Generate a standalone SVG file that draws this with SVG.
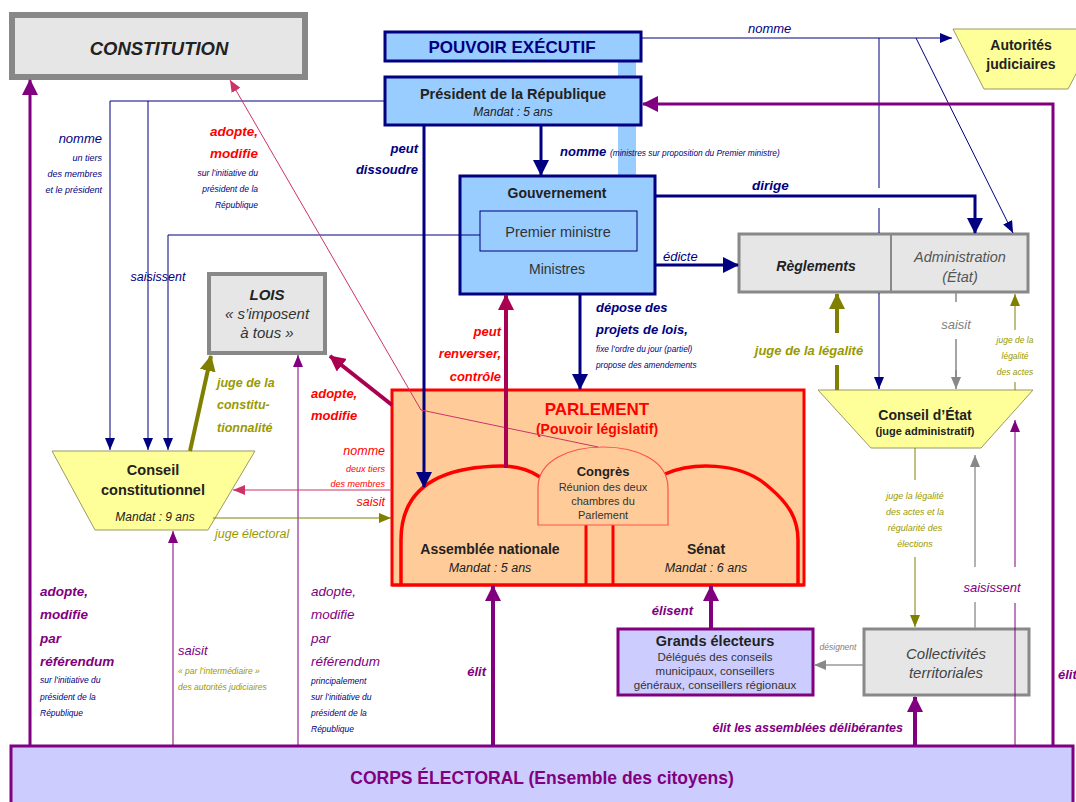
<svg xmlns="http://www.w3.org/2000/svg" width="1076" height="802" viewBox="0 0 1076 802">
<style>
text{font-family:"Liberation Sans",Arial,sans-serif;}
.b{font-weight:bold}
.i{font-style:italic}
.c{text-anchor:middle}
.r{text-anchor:end}
.navy{fill:#000080}
.purp{fill:#800080}
.red{fill:#ff0000}
.oli{fill:#999900}
.gry{fill:#808080}
.dk{fill:#222}
.gbox{fill:#e6e6e6;stroke:#888;}
.bbox{fill:#99ccff;stroke:#000080;stroke-width:3}
.yel{fill:#ffff99;stroke:#999966;stroke-width:1}
.vbox{fill:#ccccff;stroke:#800080;stroke-width:3}
.ln{fill:none}
</style>
<defs>
<marker id="nL" viewBox="0 0 16 16" refX="15" refY="8" markerWidth="16" markerHeight="16" orient="auto" markerUnits="userSpaceOnUse"><path d="M0,0 L16,8 L0,16 z" fill="#000080"/></marker>
<marker id="nS" viewBox="0 0 12 10" refX="12" refY="5" markerWidth="12" markerHeight="10" orient="auto" markerUnits="userSpaceOnUse"><path d="M0,0 L12,5 L0,10 z" fill="#000080"/></marker>
<marker id="pL" viewBox="0 0 16 16" refX="15" refY="8" markerWidth="16" markerHeight="16" orient="auto" markerUnits="userSpaceOnUse"><path d="M0,0 L16,8 L0,16 z" fill="#800080"/></marker>
<marker id="pS" viewBox="0 0 12 10" refX="12" refY="5" markerWidth="12" markerHeight="10" orient="auto" markerUnits="userSpaceOnUse"><path d="M0,0 L12,5 L0,10 z" fill="#800080"/></marker>
<marker id="cL" viewBox="0 0 16 16" refX="15" refY="8" markerWidth="16" markerHeight="16" orient="auto" markerUnits="userSpaceOnUse"><path d="M0,0 L16,8 L0,16 z" fill="#aa0050"/></marker>
<marker id="kS" viewBox="0 0 12 10" refX="12" refY="5" markerWidth="12" markerHeight="10" orient="auto" markerUnits="userSpaceOnUse"><path d="M0,0 L12,5 L0,10 z" fill="#cc3366"/></marker>
<marker id="oL" viewBox="0 0 16 16" refX="15" refY="8" markerWidth="16" markerHeight="16" orient="auto" markerUnits="userSpaceOnUse"><path d="M0,0 L16,8 L0,16 z" fill="#808000"/></marker>
<marker id="oS" viewBox="0 0 12 10" refX="12" refY="5" markerWidth="12" markerHeight="10" orient="auto" markerUnits="userSpaceOnUse"><path d="M0,0 L12,5 L0,10 z" fill="#808000"/></marker>
<marker id="gS" viewBox="0 0 12 10" refX="12" refY="5" markerWidth="12" markerHeight="10" orient="auto" markerUnits="userSpaceOnUse"><path d="M0,0 L12,5 L0,10 z" fill="#888"/></marker>
</defs>
<rect width="1076" height="802" fill="#fff"/>
<rect x="618" y="62" width="18" height="113" fill="#99ccff"/>

<g id="constitution">
<rect class="gbox" x="12" y="15" width="293" height="62" stroke-width="6"/>
<text class="b i c dk" x="159" y="55" font-size="18.5">CONSTITUTION</text>
</g>

<g id="pouvoir-executif">
<rect class="bbox" x="385" y="32" width="256" height="29"/>
<text class="b c navy" x="512" y="53" font-size="17">POUVOIR EXÉCUTIF</text>
</g>

<g id="president">
<rect class="bbox" x="385" y="77" width="256" height="48"/>
<text class="b c dk" x="513" y="99" font-size="14.5">Président de la République</text>
<text class="i c dk" x="513" y="116" font-size="12">Mandat : 5 ans</text>
</g>

<g id="gouvernement">
<rect class="bbox" x="460" y="176" width="195" height="118"/>
<text class="b c dk" x="557" y="198" font-size="14">Gouvernement</text>
<rect x="480" y="211" width="157" height="40" fill="none" stroke="#000080" stroke-width="1"/>
<text class="c" fill="#333" x="558" y="237" font-size="14.5">Premier ministre</text>
<text class="c" fill="#333" x="557" y="274" font-size="14">Ministres</text>
</g>

<g id="reglements-administration">
<rect class="gbox" x="739" y="234" width="289" height="58" stroke-width="3"/>
<line x1="891" y1="234" x2="891" y2="292" stroke="#888" stroke-width="2"/>
<text class="b i c dk" x="816" y="271" font-size="14">Règlements</text>
<text class="i c" fill="#555" x="960" y="262" font-size="14.5">Administration</text>
<text class="i c" fill="#555" x="960" y="282" font-size="14.5">(État)</text>
</g>

<g id="autorites-judiciaires">
<polygon points="953,29 1100,29 1068,89 984,89" fill="#ffff99" stroke="#999966" stroke-width="1"/>
<text class="b c dk" x="1021" y="50" font-size="14">Autorités</text>
<text class="b c dk" x="1021" y="69" font-size="14">judiciaires</text>
</g>

<g id="lois">
<rect class="gbox" x="209" y="274" width="116" height="79" stroke-width="4"/>
<text class="b i c dk" x="267" y="300" font-size="15">LOIS</text>
<text class="i c" fill="#333" x="267" y="319" font-size="15">« s’imposent</text>
<text class="i c" fill="#333" x="267" y="338" font-size="15">à tous »</text>
</g>

<g id="conseil-constitutionnel">
<polygon class="yel" points="52,451 255,451 208,530 95,530"/>
<text class="b c dk" x="153" y="475" font-size="14.5">Conseil</text>
<text class="b c dk" x="153" y="495" font-size="14.5">constitutionnel</text>
<text class="i c dk" x="155" y="521" font-size="12">Mandat : 9 ans</text>
</g>

<g id="parlement">
<rect x="392" y="390" width="412" height="195" fill="#ffcc99" stroke="#ff0000" stroke-width="3"/>
<text class="b c red" x="597" y="415" font-size="17">PARLEMENT</text>
<text class="b c red" x="597" y="434" font-size="14">(Pouvoir législatif)</text>
<path d="M401,585 V540 Q401,467 502,466 Q524,466 540,477" fill="none" stroke="#ff0000" stroke-width="3.5"/>
<path d="M665,474 C690,463 740,460 770,488 C790,505 798,520 798,540 V585" fill="none" stroke="#ff0000" stroke-width="3.5"/>
<line x1="586" y1="525" x2="586" y2="585" stroke="#ff0000" stroke-width="3"/>
<line x1="613" y1="525" x2="613" y2="585" stroke="#ff0000" stroke-width="3"/>
<line x1="392" y1="585" x2="804" y2="585" stroke="#ff0000" stroke-width="3"/>
<text class="b c dk" x="490" y="554" font-size="14">Assemblée nationale</text>
<text class="i c dk" x="490" y="572" font-size="12.5">Mandat : 5 ans</text>
<text class="b c dk" x="706" y="554" font-size="14">Sénat</text>
<text class="i c dk" x="706" y="572" font-size="12.5">Mandat : 6 ans</text>
</g>

<g id="congres">
<path d="M538,525 V488 C538,460 570,447 603,447 C636,447 668,460 668,488 V525 Z" fill="#ffcc99" stroke="#ff5050" stroke-width="1.2"/>
<text class="b c dk" x="603" y="476" font-size="13">Congrès</text>
<text class="c" fill="#333" x="603" y="491" font-size="11">Réunion des deux</text>
<text class="c" fill="#333" x="603" y="505" font-size="11">chambres du</text>
<text class="c" fill="#333" x="603" y="519" font-size="11">Parlement</text>
</g>

<g id="conseil-etat">
<polygon class="yel" points="818,390 1033,390 981,448 871,448"/>
<text class="b c dk" x="925" y="420" font-size="14">Conseil d’État</text>
<text class="b c dk" x="925" y="435" font-size="11">(juge administratif)</text>
</g>

<g id="grands-electeurs">
<rect class="vbox" x="618" y="629" width="195" height="66"/>
<text class="b c dk" x="715" y="646" font-size="14.5">Grands électeurs</text>
<text class="c" fill="#333" x="715" y="661" font-size="11.5">Délégués des conseils</text>
<text class="c" fill="#333" x="715" y="675" font-size="11.5">municipaux, conseillers</text>
<text class="c" fill="#333" x="715" y="689" font-size="11.5">généraux, conseillers régionaux</text>
</g>

<g id="collectivites">
<rect class="gbox" x="864" y="629" width="165" height="66" stroke-width="3"/>
<text class="i c" fill="#444" x="946" y="659" font-size="15">Collectivités</text>
<text class="i c" fill="#444" x="946" y="678" font-size="15">territoriales</text>
</g>

<g id="corps-electoral">
<rect class="vbox" x="11" y="746" width="1062" height="70"/>
<text class="b c purp" x="542" y="784" font-size="17.5">CORPS ÉLECTORAL (Ensemble des citoyens)</text>
</g>

<g id="connectors">
<path class="ln" d="M541,126 V175" stroke="#000080" stroke-width="3" marker-end="url(#nL)"/>
<path class="ln" d="M424,126 V487" stroke="#000080" stroke-width="3" marker-end="url(#nL)"/>
<path class="ln" d="M642,38 H952" stroke="#000080" stroke-width="1" marker-end="url(#nS)"/>
<path class="ln" d="M879,38 V188 M879,208 V233 M879,293 V389" stroke="#000080" stroke-width="1"/>
<path class="ln" d="M879,380 V389" stroke="#000080" stroke-width="1" marker-end="url(#nS)"/>
<path class="ln" d="M916,38 L1013,233" stroke="#000080" stroke-width="1" marker-end="url(#nS)"/>
<path class="ln" d="M656,196 H975 V233" stroke="#000080" stroke-width="3" marker-end="url(#nL)"/>
<path class="ln" d="M656,265 H738" stroke="#000080" stroke-width="3" marker-end="url(#nL)"/>
<path class="ln" d="M384,101 H110 V450" stroke="#000080" stroke-width="1" marker-end="url(#nS)"/>
<path class="ln" d="M148,101 V450" stroke="#000080" stroke-width="1" marker-end="url(#nS)"/>
<path class="ln" d="M480,235 H168 V450" stroke="#000080" stroke-width="1" marker-end="url(#nS)"/>
<path class="ln" d="M30,745 V80" stroke="#800080" stroke-width="3" marker-end="url(#pL)"/>
<path class="ln" d="M598,447 L421,410 L230,80" stroke="#cc3366" stroke-width="1" marker-end="url(#kS)"/>
<path class="ln" d="M392,405 L330,356" stroke="#aa0050" stroke-width="4" marker-end="url(#cL)"/>
<path class="ln" d="M190,451 L211,356" stroke="#808000" stroke-width="4" marker-end="url(#oL)"/>
<path class="ln" d="M298,745 V355" stroke="#800080" stroke-width="1" marker-end="url(#pS)"/>
<path class="ln" d="M173,745 V531" stroke="#800080" stroke-width="1" marker-end="url(#pS)"/>
<path class="ln" d="M392,490 H233" stroke="#cc3366" stroke-width="1" marker-end="url(#kS)"/>
<path class="ln" d="M213,518 H391" stroke="#808000" stroke-width="1" marker-end="url(#oS)"/>
<path class="ln" d="M506,468 V295" stroke="#aa0050" stroke-width="4" marker-end="url(#cL)"/>
<path class="ln" d="M580,295 V389" stroke="#000080" stroke-width="3" marker-end="url(#nL)"/>
<path class="ln" d="M837,390 V365" stroke="#808000" stroke-width="4"/>
<path class="ln" d="M837,333 V294" stroke="#808000" stroke-width="4" marker-end="url(#oL)"/>
<path class="ln" d="M956,293 V302 M956,339 V380" stroke="#888" stroke-width="1.5"/>
<path class="ln" d="M956,370 V389" stroke="#888" stroke-width="1.5" marker-end="url(#gS)"/>
<path class="ln" d="M1015,390 V382" stroke="#808000" stroke-width="1"/>
<path class="ln" d="M1015,330 V294" stroke="#808000" stroke-width="1" marker-end="url(#oS)"/>
<path class="ln" d="M915,448 V480" stroke="#808000" stroke-width="1"/>
<path class="ln" d="M915,557 V627" stroke="#808000" stroke-width="1" marker-end="url(#oS)"/>
<path class="ln" d="M975,628 V602" stroke="#999" stroke-width="1.5"/>
<path class="ln" d="M975,567 V455" stroke="#999" stroke-width="1.5" marker-end="url(#gS)"/>
<path class="ln" d="M1015,745 V603" stroke="#800080" stroke-width="1"/>
<path class="ln" d="M1015,567 V420" stroke="#800080" stroke-width="1" marker-end="url(#pS)"/>
<path class="ln" d="M1053,745 V104 H643" stroke="#800080" stroke-width="3" marker-end="url(#pL)"/>
<path class="ln" d="M863,665 H814" stroke="#999" stroke-width="1.5" marker-end="url(#gS)"/>
<path class="ln" d="M711,628 V586" stroke="#800080" stroke-width="4" marker-end="url(#pL)"/>
<path class="ln" d="M493,745 V586" stroke="#800080" stroke-width="4" marker-end="url(#pL)"/>
<path class="ln" d="M915,745 V697" stroke="#800080" stroke-width="4" marker-end="url(#pL)"/>
</g>

<g id="labels">
<text class="b i r navy" x="418" y="153" font-size="13">peut</text>
<text class="b i r navy" x="418" y="174" font-size="13">dissoudre</text>
<text class="b i navy" x="560" y="156" font-size="13">nomme</text>
<text class="i navy" x="610" y="156" font-size="8.3">(ministres sur proposition du Premier ministre)</text>
<text class="i navy" x="748" y="33" font-size="13">nomme</text>
<text class="b i navy" x="752" y="190" font-size="13.5">dirige</text>
<text class="i navy" x="663" y="261" font-size="13">édicte</text>
<text class="b i navy" x="596" y="312" font-size="13">dépose des</text>
<text class="b i navy" x="596" y="334" font-size="13">projets de lois,</text>
<text class="i navy" x="596" y="352" font-size="8.3">fixe l’ordre du jour (partiel)</text>
<text class="i navy" x="596" y="368" font-size="8.3">propose des amendements</text>
<text class="b i r red" x="501" y="336" font-size="13">peut</text>
<text class="b i r red" x="501" y="358" font-size="13">renverser,</text>
<text class="b i r red" x="501" y="381" font-size="13">contrôle</text>
<text class="i r navy" x="102" y="143" font-size="13">nomme</text>
<text class="i r navy" x="102" y="161" font-size="9">un tiers</text>
<text class="i r navy" x="102" y="177" font-size="9">des membres</text>
<text class="i r navy" x="102" y="193" font-size="9">et le président</text>
<text class="b i r red" x="258" y="136" font-size="13.5">adopte,</text>
<text class="b i r red" x="258" y="158" font-size="13.5">modifie</text>
<text class="i r navy" x="258" y="176" font-size="8.5">sur l’initiative du</text>
<text class="i r navy" x="258" y="192" font-size="8.5">président de la</text>
<text class="i r navy" x="258" y="208" font-size="8.5">République</text>
<text class="i c navy" x="158" y="281" font-size="12.5">saisissent</text>
<text class="b i oli" x="217" y="387" font-size="12.5">juge de la</text>
<text class="b i oli" x="217" y="409" font-size="12.5">constitu-</text>
<text class="b i oli" x="217" y="432" font-size="12.5">tionnalité</text>
<text class="b i red" x="311" y="398" font-size="13">adopte,</text>
<text class="b i red" x="311" y="420" font-size="13">modifie</text>
<text class="i r red" x="385" y="455" font-size="12.5">nomme</text>
<text class="i r red" x="385" y="472" font-size="9">deux tiers</text>
<text class="i r red" x="385" y="487" font-size="9">des membres</text>
<text class="i r red" x="385" y="506" font-size="12.5">saisit</text>
<text class="i oli" x="215" y="538" font-size="12.5">juge électoral</text>
<text class="b i purp" x="40" y="596" font-size="13.5">adopte,</text>
<text class="b i purp" x="40" y="619" font-size="13.5">modifie</text>
<text class="b i purp" x="40" y="643" font-size="13.5">par</text>
<text class="b i purp" x="40" y="666" font-size="13.5">référendum</text>
<text class="i navy" x="40" y="683" font-size="8.5">sur l’initiative du</text>
<text class="i navy" x="40" y="700" font-size="8.5">président de la</text>
<text class="i navy" x="40" y="716" font-size="8.5">République</text>
<text class="i purp" x="178" y="655" font-size="13">saisit</text>
<text class="i oli" x="178" y="674" font-size="8.5">« par l’intermédiaire »</text>
<text class="i oli" x="178" y="690" font-size="8.5">des autorités judiciaires</text>
<text class="i purp" x="311" y="596" font-size="13.5">adopte,</text>
<text class="i purp" x="311" y="619" font-size="13.5">modifie</text>
<text class="i purp" x="311" y="643" font-size="13.5">par</text>
<text class="i purp" x="311" y="666" font-size="13.5">référendum</text>
<text class="i navy" x="311" y="684" font-size="8.5">principalement</text>
<text class="i navy" x="311" y="700" font-size="8.5">sur l’initiative du</text>
<text class="i navy" x="311" y="716" font-size="8.5">président de la</text>
<text class="i navy" x="311" y="732" font-size="8.5">République</text>
<text class="b i r purp" x="486" y="676" font-size="13">élit</text>
<text class="b i r purp" x="693" y="615" font-size="13">élisent</text>
<text class="b i r purp" x="903" y="732" font-size="12.5">élit les assemblées délibérantes</text>
<text class="i c gry" x="838" y="650" font-size="8.5">désignent</text>
<text class="i c purp" x="992" y="592" font-size="13">saisissent</text>
<text class="i c oli" x="915" y="499" font-size="9">juge la légalité</text>
<text class="i c oli" x="915" y="515" font-size="9">des actes et la</text>
<text class="i c oli" x="915" y="531" font-size="9">régularité des</text>
<text class="i c oli" x="915" y="547" font-size="9">élections</text>
<text class="i c oli" x="1015" y="343" font-size="8.5">juge de la</text>
<text class="i c oli" x="1015" y="359" font-size="8.5">légalité</text>
<text class="i c oli" x="1015" y="375" font-size="8.5">des actes</text>
<text class="i c gry" x="956" y="329" font-size="13">saisit</text>
<text class="b i c oli" x="809" y="355" font-size="13">juge de la légalité</text>
<text class="b i purp" x="1058" y="679" font-size="13">élit</text>
</g>
</svg>
